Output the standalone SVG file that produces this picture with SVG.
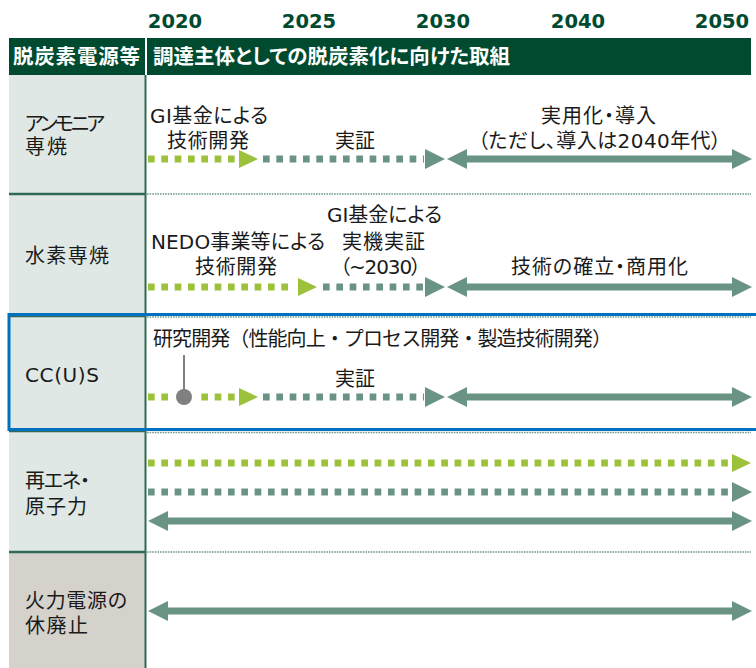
<svg xmlns="http://www.w3.org/2000/svg" xmlns:xlink="http://www.w3.org/1999/xlink" width="756" height="668" viewBox="0 0 756 668">
<style>
text{font-family:"DejaVu Sans","Noto Sans CJK JP",sans-serif;font-size:20px;fill:#1a1a1a;font-feature-settings:"palt" 1;}
.np{font-feature-settings:normal;}
.yr{font-family:"DejaVu Sans",sans-serif;font-weight:bold;font-size:19.5px;fill:#004B30;text-anchor:middle;font-feature-settings:normal;}
.hd{font-family:"Noto Sans CJK JP",sans-serif;font-weight:bold;font-size:20.5px;fill:#fff;}
.sepL{stroke:#2F6A54;stroke-width:2.5;}
.sepR{stroke:#6F9A8A;stroke-width:1.5;stroke-dasharray:1.6 1;}
.dotG{stroke:#9CC13B;stroke-width:7;stroke-dasharray:6.67 6.66;fill:none;}
.dotT{stroke:#699484;stroke-width:7;stroke-dasharray:6.67 6.66;fill:none;}
.shaft{stroke:#699484;stroke-width:7;fill:none;}
</style>
<defs>
<path id="hG" d="M0,-9 L19,0 L0,9 Z" fill="#9CC13B"/>
<path id="hT" d="M0,-10 L20,0 L0,10 Z" fill="#699484"/>
</defs>

<g id="years">
<text class="yr" x="175" y="28">2020</text>
<text class="yr" x="309" y="28">2025</text>
<text class="yr" x="443" y="28">2030</text>
<text class="yr" x="578" y="28">2040</text>
<text class="yr" x="722" y="28">2050</text>
</g>

<g id="header">
<rect x="9" y="38" width="136" height="37" fill="#004B30"/>
<rect x="147" y="38" width="604" height="37" fill="#004B30"/>
<text class="hd" x="13" y="63.5" textLength="127">脱炭素電源等</text>
<text class="hd" x="153" y="63.5" textLength="357">調達主体としての脱炭素化に向けた取組</text>
</g>

<g id="grid">
<rect x="9" y="75" width="136.5" height="477" fill="#DFE8E5"/>
<rect x="9" y="552" width="136.5" height="116" fill="#D5D1CB"/>
<line class="sepL" x1="9" y1="194" x2="146" y2="194"/>
<line class="sepL" x1="9" y1="316" x2="146" y2="316"/>
<line class="sepL" x1="9" y1="431" x2="146" y2="431"/>
<line class="sepL" x1="9" y1="552" x2="146" y2="552"/>
<line class="sepR" x1="147" y1="194" x2="751" y2="194"/>
<line class="sepR" x1="147" y1="317" x2="751" y2="317"/>
<line class="sepR" x1="147" y1="432.5" x2="751" y2="432.5"/>
<line class="sepR" x1="147" y1="552" x2="751" y2="552"/>
<line x1="145.5" y1="75" x2="145.5" y2="668" stroke="#2F6A54" stroke-width="2"/>
</g>

<g id="row-ammonia">
<text x="25" y="130.5" textLength="80">アンモニア</text>
<text x="25" y="154" textLength="42">専焼</text>
<text x="150" y="122.5" textLength="118">GI基金による</text>
<text x="167" y="147.5" textLength="82">技術開発</text>
<text x="355" y="147.5" text-anchor="middle">実証</text>
<text x="541" y="122.5" textLength="115">実用化・導入</text>
<text x="478" y="147.5" textLength="243">（ただし、導入は2040年代）</text>
</g>

<g id="row-hydrogen">
<text x="25" y="262.5" textLength="84">水素専焼</text>
<text x="327" y="222" textLength="115">GI基金による</text>
<text x="151" y="248.5" textLength="174">NEDO事業等による</text>
<text x="342" y="248.5" textLength="83">実機実証</text>
<text x="195" y="273.5" textLength="82">技術開発</text>
<text x="340" y="273.5" textLength="81">（~2030）</text>
<text x="511" y="273.5" textLength="177">技術の確立・商用化</text>
</g>

<g id="row-ccus">
<text x="25" y="382" textLength="74">CC(U)S</text>
<text class="np" x="153" y="346" textLength="459">研究開発（性能向上・プロセス開発・製造技術開発）</text>
<text x="355" y="385.5" text-anchor="middle">実証</text>
<rect x="9" y="314.5" width="760" height="115" fill="none" stroke="#0070C0" stroke-width="3"/>
</g>

<g id="row-renewables">
<text x="25" y="487.5" textLength="65">再エネ・</text>
<text x="25" y="514" textLength="62">原子力</text>
</g>

<g id="row-thermal">
<text x="25" y="608" textLength="102">火力電源の</text>
<text x="25" y="633" textLength="63">休廃止</text>
</g>

<g id="connectors">
<path class="dotG" d="M148,159 H240"/>
<use xlink:href="#hG" transform="translate(239,159)"/>
<path class="dotT" d="M263,159 H424"/>
<use xlink:href="#hT" transform="translate(425,159)"/>
<path class="shaft" d="M466,159 H733"/>
<use xlink:href="#hT" transform="translate(467,159) scale(-1,1)"/>
<use xlink:href="#hT" transform="translate(732,159)"/>
<path class="dotG" d="M148,287 H294"/>
<use xlink:href="#hG" transform="translate(298,287)"/>
<path class="dotT" d="M323,287 H424"/>
<use xlink:href="#hT" transform="translate(425,287)"/>
<path class="shaft" d="M466,287 H733"/>
<use xlink:href="#hT" transform="translate(467,287) scale(-1,1)"/>
<use xlink:href="#hT" transform="translate(732,287)"/>
<path class="dotG" d="M148,397 H170"/>
<path class="dotG" d="M201.33,397 H240"/>
<use xlink:href="#hG" transform="translate(239,397)"/>
<line x1="184" y1="355" x2="184" y2="397" stroke="#808080" stroke-width="2"/>
<circle cx="184" cy="397" r="8" fill="#808080"/>
<path class="dotT" d="M263,397 H424"/>
<use xlink:href="#hT" transform="translate(425,397)"/>
<path class="shaft" d="M466,397 H733"/>
<use xlink:href="#hT" transform="translate(467,397) scale(-1,1)"/>
<use xlink:href="#hT" transform="translate(732,397)"/>
<path class="dotG" d="M148,463 H731"/>
<use xlink:href="#hG" transform="translate(732,463)"/>
<path class="dotT" d="M148,492 H731"/>
<use xlink:href="#hT" transform="translate(732,492)"/>
<path class="shaft" d="M167,521 H733"/>
<use xlink:href="#hT" transform="translate(168,521) scale(-1,1)"/>
<use xlink:href="#hT" transform="translate(732,521)"/>
<path class="shaft" d="M167,611 H733"/>
<use xlink:href="#hT" transform="translate(168,611) scale(-1,1)"/>
<use xlink:href="#hT" transform="translate(732,611)"/>
</g>
</svg>
